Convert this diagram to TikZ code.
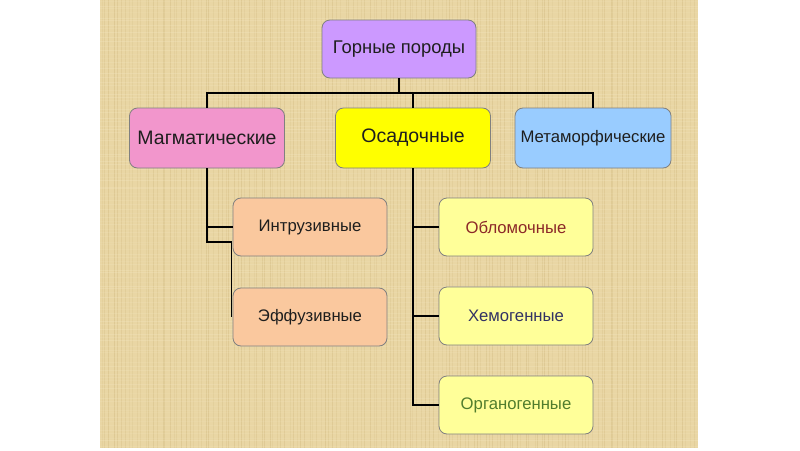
\documentclass[tikz,border=0pt]{standalone}
\usepackage{fontspec}
\setmainfont{Liberation Sans}
\definecolor{panel}{RGB}{233,214,164}
\definecolor{paneldark}{RGB}{200,175,115}
\definecolor{panellight}{RGB}{247,235,200}
\definecolor{cTop}{RGB}{204,153,255}
\definecolor{cMag}{RGB}{242,150,204}
\definecolor{cOsa}{RGB}{255,255,0}
\definecolor{cMet}{RGB}{153,204,255}
\definecolor{cPeach}{RGB}{250,200,158}
\definecolor{cLY}{RGB}{255,255,153}
\definecolor{cBorder}{RGB}{128,128,128}
\definecolor{tRed}{RGB}{140,40,40}
\definecolor{tBlue}{RGB}{50,50,100}
\definecolor{tGreen}{RGB}{80,125,45}
\definecolor{tDark}{RGB}{30,30,30}
\tikzset{
  box/.style={draw=cBorder, line width=0.8pt, rounded corners=8pt, align=center,
    minimum width=154pt, minimum height=58pt, inner sep=0pt, text=tDark},
  conn/.style={draw=black, line width=1.5pt},
  topf/.style={font=\fontsize{18.4}{21}\selectfont},
  big/.style={font=\fontsize{19.5}{22}\selectfont},
  mid/.style={font=\fontsize{16.7}{19}\selectfont},
}
\begin{document}
\begin{tikzpicture}[x=1pt,y=-1pt]
\useasboundingbox (0,0) rectangle (800,450);
\fill[white] (0,0) rectangle (800,450);
\fill[panel] (100,0) rectangle (698,448);
\begin{scope}
\clip (100,0) rectangle (698,448);
\pgfmathsetseed{7}
\foreach \i in {0,...,149}{
  \pgfmathsetmacro{\xx}{100+4*\i+rnd*3}
  \pgfmathsetmacro{\op}{0.12+0.2*rnd}
  \draw[paneldark, line width=0.8pt, opacity=\op] (\xx,0) -- (\xx,448);
}
\foreach \i in {0,...,111}{
  \pgfmathsetmacro{\yy}{4*\i+rnd*3}
  \pgfmathsetmacro{\op}{0.10+0.18*rnd}
  \draw[panellight, line width=0.8pt, opacity=\op] (100,\yy) -- (698,\yy);
}
\end{scope}

\node[box, topf, fill=cTop] (top) at (399,49) {Горные породы};
\node[box, big, fill=cMag, minimum width=155pt, minimum height=60pt] (mag) at (207,138) {Магматические};
\node[box, big, fill=cOsa, minimum width=155pt, minimum height=60pt] (osa) at (413,138) {Осадочные};
\node[box, mid, fill=cMet, minimum width=156pt, minimum height=60pt] (met) at (593,138) {Метаморфические};

\node[box, mid, fill=cPeach] (intr) at (310,227) {Интрузивные};
\node[box, mid, fill=cPeach] (eff) at (310,317) {Эффузивные};

\node[box, mid, fill=cLY, text=tRed] (obl) at (516,227) {Обломочные};
\node[box, mid, fill=cLY, text=tBlue] (hem) at (516,316) {Хемогенные};
\node[box, mid, fill=cLY, text=tGreen] (org) at (516,405) {Органогенные};

\coordinate (bus) at (399,93);
\coordinate (m1) at (207,242);
\coordinate (m2) at ([xshift=-1pt]eff.west);

\draw[conn] (top.south) -- (bus);
\draw[conn] (mag.north) -- (mag.north |- bus) -- (met.north |- bus) -- (met.north);
\draw[conn] (osa.north) -- (osa.north |- bus);

\draw[conn] (mag.south) -- (m1) -- (m1 -| m2) -- (m2);
\draw[conn] (mag.south |- intr.west) -- (intr.west);

\draw[conn] (osa.south) |- (org.west);
\draw[conn] (osa.south |- obl.west) -- (obl.west);
\draw[conn] (osa.south |- hem.west) -- (hem.west);
\end{tikzpicture}
\end{document}
